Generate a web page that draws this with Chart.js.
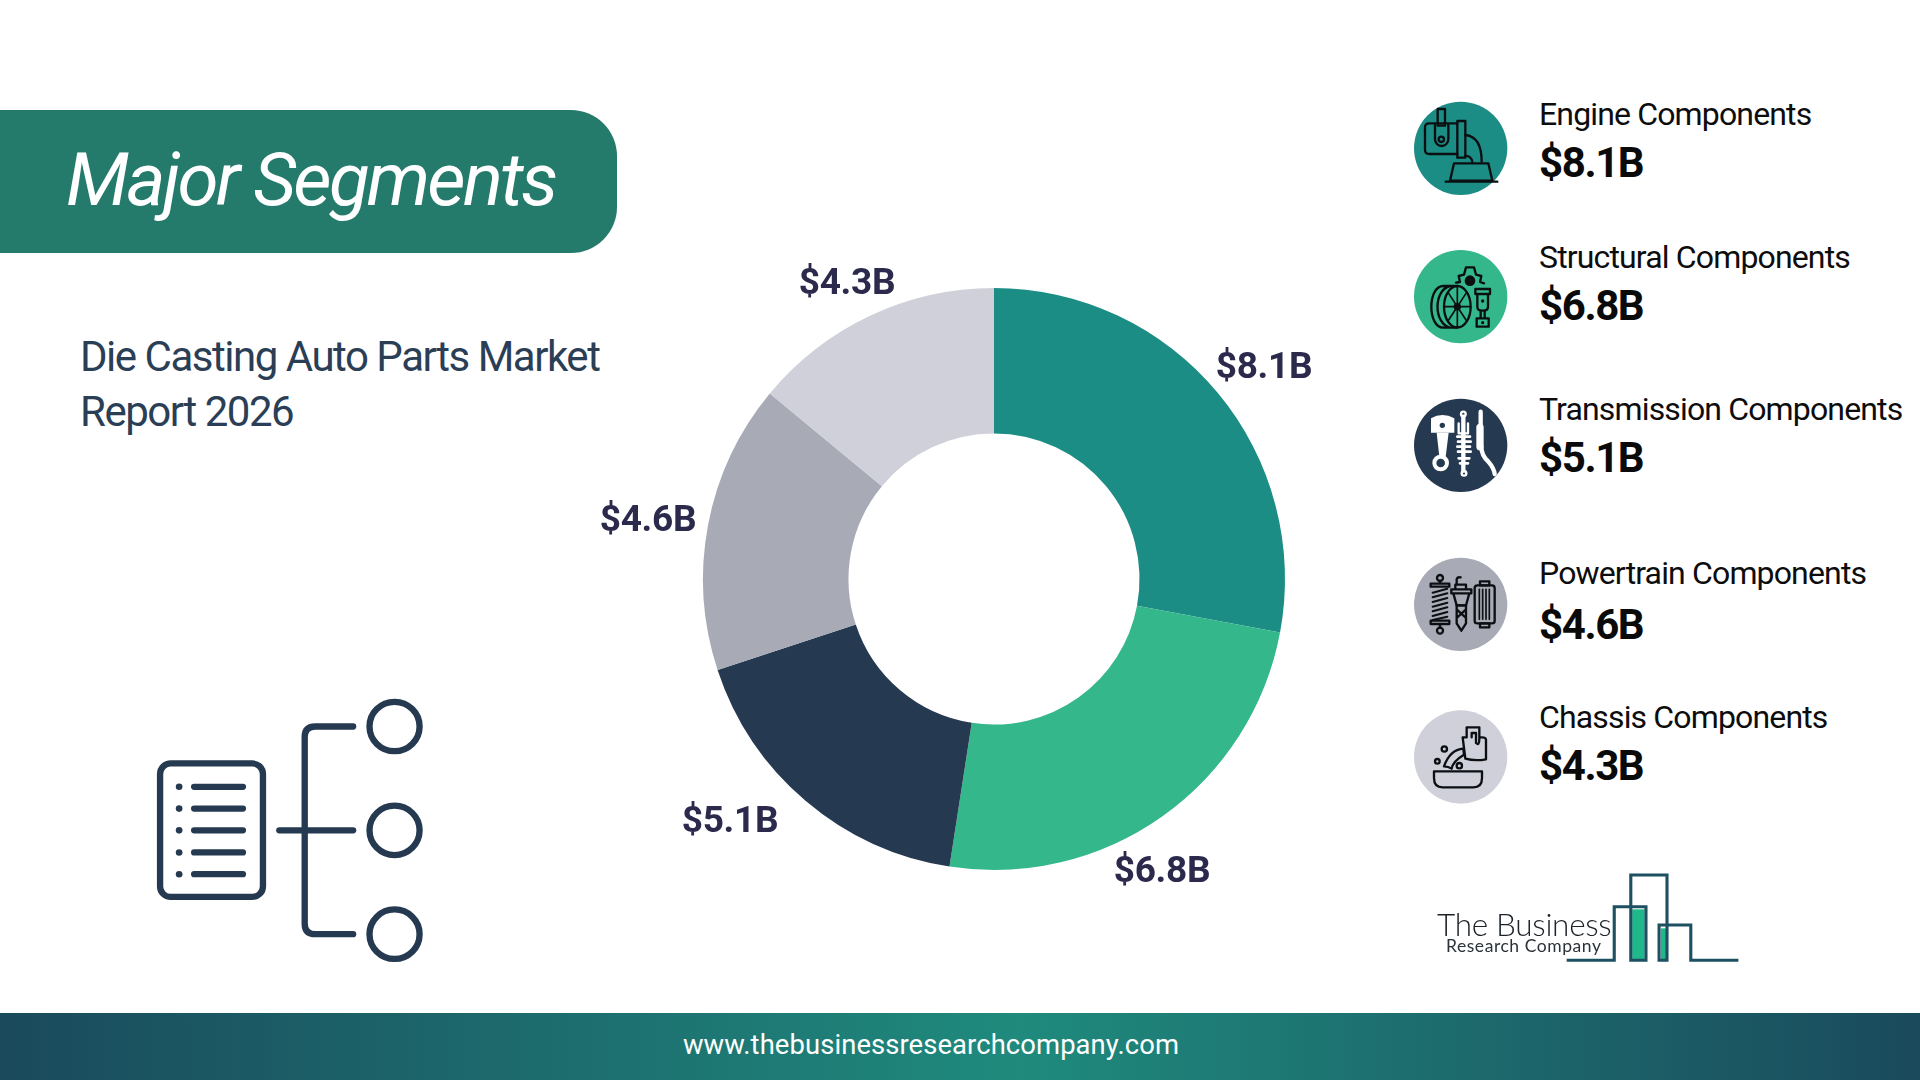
<!DOCTYPE html>
<html>
<head>
<meta charset="utf-8">
<title>Major Segments</title>
<script src="https://cdn.jsdelivr.net/npm/chart.js@4"></script>
<style>
  html, body { margin: 0; padding: 0; background: #fff; }
  body { position: relative; width: 1920px; height: 1080px; overflow: hidden; font-family: Roboto, sans-serif; }
  .abs { position: absolute; }
  #banner { left: 0; top: 110px; width: 617px; height: 143px; background: #247a6b; border-radius: 0 46px 46px 0; }
  #banner-text { left: 66px; top: 136px; color: #fff; font-size: 74.5px; font-style: italic; font-weight: 400; letter-spacing: -2.75px; line-height: 88px; white-space: nowrap; }
  #subtitle { left: 80px; top: 329px; color: #2a3e55; font-size: 42px; line-height: 55px; letter-spacing: -1.48px; white-space: nowrap; }
  #chart-box { left: 564px; top: 149px; width: 860px; height: 860px; }
  .name { left: 1539px; color: #0d0d0d; font-size: 32px; line-height: 40px; letter-spacing: -0.85px; white-space: nowrap; }
  .val { left: 1539px; color: #0a0a0a; font-size: 42px; line-height: 50px; font-weight: 700; letter-spacing: -1.4px; white-space: nowrap; }
  .icon { left: 1400px; width: 130px; height: 120px; }
  .icon * { fill: none; stroke: #0b0f12; stroke-width: 7; stroke-linejoin: round; stroke-linecap: round; }
  .icon .disc { stroke: none; }
  .icon .solid { fill: #0b0f12; stroke: none; }
  .icon.white * { stroke: #fff; }
  .icon.white .disc { stroke: none; }
  .icon.white .solid { fill: #fff; stroke: none; }
  .icon.white .hole { fill: #253a50; stroke: none; }
  #tree { left: 120px; top: 681px; width: 334px; height: 300px; }
  #tree * { fill: none; stroke: #253a50; stroke-width: 19; stroke-linecap: round; }
  #tree .dot { fill: #253a50; stroke: none; }
  #logo { left: 1378px; top: 530px; width: 538px; height: 450px; }
  #logo-a { left: 1437px; top: 904px; color: #1c2228; font-family: Lato, sans-serif; font-weight: 300; font-size: 31.5px; line-height: 40px; letter-spacing: -0.3px; white-space: nowrap; }
  #logo-b { left: 1446px; top: 936px; color: #2b3238; font-family: Lato, sans-serif; font-weight: 400; font-size: 17.5px; line-height: 20px; letter-spacing: 0.55px; white-space: nowrap; }
  #footer { left: 0; top: 1013px; width: 1920px; height: 67px; background: linear-gradient(90deg, #1a4a5c 0%, #1f8a7d 53%, #1a4a5c 100%); }
  #footer-text { left: 0; top: 1013px; width: 1862px; height: 64px; line-height: 64px; text-align: center; color: #fff; font-size: 27.4px; letter-spacing: 0.1px; }
</style>
</head>
<body>

<div id="banner" class="abs"></div>
<div id="banner-text" class="abs">Major Segments</div>
<div id="subtitle" class="abs">Die Casting Auto Parts Market<br>Report 2026</div>

<svg id="tree" class="abs" viewBox="0 0 1000 910" preserveAspectRatio="none">
  <rect x="120" y="250" width="308" height="405" rx="32"/>
  <circle class="dot" cx="177" cy="321" r="10"/><circle class="dot" cx="177" cy="387" r="10"/>
  <circle class="dot" cx="177" cy="453" r="10"/><circle class="dot" cx="177" cy="520" r="10"/>
  <circle class="dot" cx="177" cy="586" r="10"/>
  <path d="M222,321H368M222,387H368M222,453H368M222,520H368M222,586H368"/>
  <path d="M477,453H698"/>
  <path d="M698,138H585Q553,138 553,170V736Q553,768 585,768H698"/>
  <circle cx="822" cy="138" r="75"/><circle cx="822" cy="453" r="75"/><circle cx="822" cy="768" r="75"/>
</svg>

<div id="chart-box" class="abs"><canvas id="donut" width="860" height="860"></canvas></div>

<!-- icon 1 -->
<svg class="icon abs" style="top:90px" viewBox="0 0 390 360">
  <circle class="disc" cx="182" cy="175" r="140" style="fill:#1c8d85"/>
  <path d="M172,100H88Q75,100 75,112V180Q75,192 88,192H172"/>
  <rect x="113" y="57" width="22" height="50"/>
  <path d="M105,105V148A20,20 0 0 0 145,148V105"/><circle cx="124" cy="148" r="8"/>
  <rect x="172" y="93" width="24" height="110"/>
  <path d="M196,135Q245,140 245,215M196,197Q215,199 217,216"/>
  <path d="M162,220H265L277,272H150ZM137,275H292"/>
</svg>
<!-- icon 2 -->
<svg class="icon abs" style="top:240px" viewBox="0 0 390 360">
  <circle class="disc" cx="182" cy="170" r="140" style="fill:#34b78a"/>
  <ellipse cx="172" cy="200" rx="40" ry="62"/>
  <path d="M172,138H130C82,138 82,263 130,263H172M150,138C100,150 100,250 150,263"/>
  <path d="M172,138V262M136,200H208M146,160L198,240M198,160L146,240" style="stroke-width:5"/>
  <circle class="solid" cx="172" cy="200" r="11"/>
  <circle class="solid" cx="210" cy="122" r="16"/>
  <path d="M168,128L180,126L176,108L192,104L198,82L222,82L228,104L244,108L240,126L252,130"/>
  <path d="M226,147H270V162H226ZM232,162V200Q232,212 248,212Q264,212 264,200V162"/>
  <path d="M242,212V235M254,212V235M230,235H266V260H230Z"/>
  <circle class="solid" cx="248" cy="183" r="5"/><circle class="solid" cx="248" cy="248" r="5"/>
</svg>
<!-- icon 3 -->
<svg class="icon abs white" style="top:390px" viewBox="0 0 390 360">
  <circle class="disc" cx="182" cy="166" r="140" style="fill:#253a50"/>
  <path class="solid" d="M93,85Q127,65 163,85V128H93Z"/>
  <circle class="hole" cx="127" cy="106" r="8"/>
  <path class="solid" d="M110,128H146L137,200H118Z"/>
  <circle cx="122" cy="219" r="19" style="stroke-width:12"/>
  <circle cx="190" cy="72" r="7"/><circle cx="192" cy="250" r="7"/>
  <path d="M190,80V242" style="stroke-width:13"/>
  <path d="M176,100V130H204V100" style="stroke-width:7"/>
  <path d="M172,140H210M174,155H212M172,170H210M174,185H212M176,205H208M180,220H204" style="stroke-width:8"/>
  <path d="M242,65V105" style="stroke-width:13"/>
  <path d="M240,112V170" style="stroke-width:22"/>
  <path d="M244,170Q244,195 265,215Q282,235 284,252" style="stroke-width:13"/>
</svg>
<!-- icon 4 -->
<svg class="icon abs" style="top:546px" viewBox="0 0 390 360">
  <circle class="disc" cx="182" cy="175" r="140" style="fill:#a8abb6"/>
  <circle cx="120" cy="96" r="9"/><circle cx="120" cy="254" r="9"/>
  <path d="M92,113H148V122H92ZM92,224H148V234H92ZM120,105V113M120,234V245"/>
  <path d="M98,140L142,128M98,154L142,142M98,168L142,156M98,182L142,170M98,196L142,184M98,210L142,198M98,222L142,212" style="stroke-width:6"/>
  <path d="M170,116V100Q172,92 182,94M154,130H214V142H154ZM166,116H198V130H166ZM160,142H208L198,178H170Z"/>
  <path d="M170,178H198V232L184,254L170,232ZM170,190L198,216M198,190L170,216"/>
  <rect x="240" y="106" width="28" height="12"/><rect x="240" y="232" width="28" height="12"/>
  <rect x="224" y="118" width="60" height="114" rx="8"/>
  <path d="M238,130V220M248,130V220M258,130V220M268,130V220" style="stroke-width:5"/>
</svg>
<!-- icon 5 -->
<svg class="icon abs" style="top:698px" viewBox="0 0 390 360">
  <circle class="disc" cx="182" cy="177" r="140" style="fill:#cfd0d9"/>
  <path d="M196,118H188L196,182Q225,190 258,184V125Q258,118 246,118H240"/>
  <path d="M200,118V88H238V122Q238,145 228,135V105H215V118"/>
  <path d="M190,152Q150,155 132,205Q145,205 155,212Q158,190 192,170Z"/>
  <circle cx="133" cy="153" r="8"/><circle cx="112" cy="190" r="7"/><circle cx="178" cy="203" r="8"/>
  <path d="M102,220H246V240Q246,268 220,268H128Q102,268 102,240Z"/>
</svg>

<div class="name abs" style="top:94px">Engine Components</div>
<div class="val abs" style="top:138px">$8.1B</div>
<div class="name abs" style="top:237px">Structural Components</div>
<div class="val abs" style="top:281px">$6.8B</div>
<div class="name abs" style="top:389px">Transmission Components</div>
<div class="val abs" style="top:433px">$5.1B</div>
<div class="name abs" style="top:553px">Powertrain Components</div>
<div class="val abs" style="top:600px">$4.6B</div>
<div class="name abs" style="top:697px">Chassis Components</div>
<div class="val abs" style="top:741px">$4.3B</div>

<svg id="logo" class="abs" viewBox="0 0 1560 1350" preserveAspectRatio="none">
  <rect x="737" y="1138" width="36" height="152" fill="#1fb88a"/>
  <rect x="820" y="1195" width="16" height="95" fill="#1fb88a"/>
  <path d="M547,1291H685V1130H777V1291H733V1035H838V1291H815V1185H907V1291H1045" fill="none" stroke="#1d5060" stroke-width="9"/>
</svg>
<div id="logo-a" class="abs">The Business</div>
<div id="logo-b" class="abs">Research Company</div>

<div id="footer" class="abs"></div>
<div id="footer-text" class="abs">www.thebusinessresearchcompany.com</div>

<script>
  // printed figures, $ billions
  const segments = ["Engine Components", "Structural Components", "Transmission Components", "Powertrain Components", "Chassis Components"];
  const segmentValues = [8.1, 6.8, 5.1, 4.6, 4.3];
  // the slices in the picture are not quite proportional to the printed figures,
  // so this is the sweep of each one as measured, in degrees
  const sliceSweep = [100.6, 88.2, 63, 57.8, 50.4];
  const sliceColors = ["#1c8d85", "#34b78a", "#253a50", "#a8abb6", "#cfd0d9"];

  // where each value label sits, relative to the doughnut centre
  const labelOffsets = [[270, -210], [168, 294], [-264, 244], [-346, -57], [-147, -294]];

  const sliceLabels = {
    id: "sliceLabels",
    afterDatasetsDraw(chart) {
      const ctx = chart.ctx;
      const arcs = chart.getDatasetMeta(0).data;
      ctx.save();
      ctx.font = "700 37px Roboto";
      ctx.letterSpacing = "-0.3px";
      ctx.fillStyle = "#2b2a4c";
      ctx.textAlign = "center";
      ctx.textBaseline = "middle";
      arcs.forEach((arc, i) => {
        ctx.fillText("$" + segmentValues[i].toFixed(1) + "B", arc.x + labelOffsets[i][0], arc.y + labelOffsets[i][1]);
      });
      ctx.restore();
    },
  };

  new Chart(document.getElementById("donut"), {
    type: "doughnut",
    data: {
      labels: segments,
      datasets: [
        {
          data: sliceSweep,
          backgroundColor: sliceColors,
          borderWidth: 0,
          radius: 291,
          cutout: "50%",
        },
      ],
    },
    options: {
      responsive: false,
      animation: false,
      plugins: {
        legend: { display: false },
        tooltip: { enabled: false },
      },
    },
    plugins: [sliceLabels],
  });
</script>
</body>
</html>
